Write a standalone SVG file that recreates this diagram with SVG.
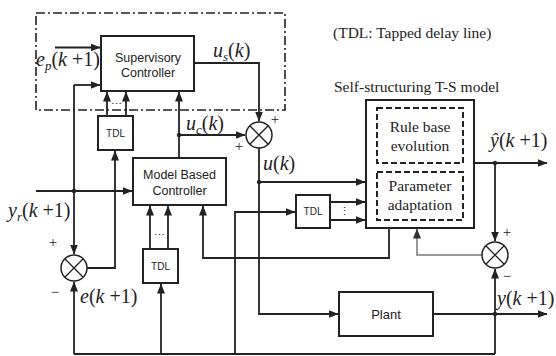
<svg xmlns="http://www.w3.org/2000/svg" width="556" height="356" viewBox="0 0 556 356">
<defs>
<marker id="ah" markerWidth="10" markerHeight="8" refX="9.5" refY="4" orient="auto" markerUnits="userSpaceOnUse"><path d="M0,0 L10,4 L0,8 z" fill="#222"/></marker>
<marker id="ahg" markerWidth="10" markerHeight="8" refX="9.5" refY="4" orient="auto" markerUnits="userSpaceOnUse"><path d="M0,0 L10,4 L0,8 z" fill="#333"/></marker>
<style>
.ln{fill:none;stroke:#222;stroke-width:1.8}
.ar{marker-end:url(#ah)}
.gr{fill:none;stroke:#777;stroke-width:1.5;marker-end:url(#ahg)}
.bx{fill:#fff;stroke:#222;stroke-width:2}
.db{fill:none;stroke:#222;stroke-width:2;stroke-dasharray:6,3}
.dd{fill:none;stroke:#222;stroke-width:1.6;stroke-dasharray:9,3,2,3}
.sm{fill:#fff;stroke:#222;stroke-width:1.5}
.x{stroke:#222;stroke-width:1.3}
.s{font-family:"Liberation Sans",Arial,sans-serif;fill:#222;text-anchor:middle}
.r{font-family:"Liberation Serif","Times New Roman",serif;fill:#222}
.c{text-anchor:middle}
.i{font-style:italic}
.dot{fill:#222}
</style>
</defs>
<rect class="dd" x="36" y="13" width="249" height="97"/>
<text class="r" x="333" y="38" font-size="15.5">(TDL: Tapped delay line)</text>
<text class="r" x="334" y="92" font-size="15.5">Self-structuring T-S model</text>

<g id="connectors">
<path class="ln ar" d="M55,47.5 H100"/>
<path class="ln ar" d="M74,85 H100"/>
<path class="ln ar" d="M74,85 V254"/>
<path class="ln ar" d="M36,191 H132"/>
<path class="ln ar" d="M74,354 V282"/>
<path class="ln" d="M74,354 H495"/>
<path class="ln ar" d="M495,354 V269"/>
<path class="ln ar" d="M161,354 V284"/>
<path class="ln ar" d="M235,354 V212 H295"/>
<path class="ln ar" d="M87,268 H115 V151"/>
<path class="ln ar" d="M107,116 V92"/>
<path class="ln ar" d="M126,116 V92"/>
<path class="ln ar" d="M150,249 V206"/>
<path class="ln ar" d="M168,249 V206"/>
<path class="ln ar" d="M179,158 V92"/>
<path class="ln ar" d="M179,135 H245"/>
<path class="ln ar" d="M194,63 H259 V121"/>
<path class="ln ar" d="M259,148 V314 H338"/>
<path class="ln ar" d="M259,182 H365"/>
<path class="ln ar" d="M330,202 H365"/>
<path class="ln ar" d="M330,220 H365"/>
<path class="ln ar" d="M389,228 V258 H203 V206"/>
<path class="gr" d="M482,255 H417 V229"/>
<path class="ln ar" d="M474,163 H547"/>
<path class="ln ar" d="M495,163 V241"/>
<path class="ln ar" d="M433,314 H547"/>
<circle class="dot" cx="74" cy="191" r="2.2"/>
<circle class="dot" cx="179" cy="135" r="2.2"/>
<circle class="dot" cx="259" cy="182" r="2.2"/>
<circle class="dot" cx="495" cy="163" r="2.2"/>
<circle class="dot" cx="495" cy="314" r="2.2"/>
<text class="r c" x="116.5" y="108" font-size="11">⋯</text>
<text class="r c" x="159" y="239" font-size="11">⋯</text>
<text class="r c" x="344" y="215" font-size="11">⋮</text>
</g>

<g id="supervisory">
<rect class="bx" x="101" y="36" width="93" height="55"/>
<text class="s" x="148" y="61.5" font-size="12.5">Supervisory</text>
<text class="s" x="148" y="77" font-size="12.5">Controller</text>
</g>
<g id="model-based">
<rect class="bx" x="133" y="158" width="93" height="47"/>
<text class="s" x="179.5" y="178.5" font-size="12.5">Model Based</text>
<text class="s" x="179.5" y="194.5" font-size="12.5">Controller</text>
</g>
<g id="tdl1">
<rect class="bx" x="98" y="116" width="35" height="34"/>
<text class="s" x="115.5" y="136.5" font-size="10">TDL</text>
</g>
<g id="tdl2">
<rect class="bx" x="143" y="249" width="35" height="34"/>
<text class="s" x="160.5" y="269.5" font-size="10">TDL</text>
</g>
<g id="tdl3">
<rect class="bx" x="296" y="195" width="34" height="33"/>
<text class="s" x="313" y="215" font-size="10">TDL</text>
</g>
<g id="plant">
<rect class="bx" x="339" y="292" width="94" height="44"/>
<text class="s" x="386" y="318.5" font-size="13">Plant</text>
</g>
<g id="ts-model">
<rect class="bx" x="366" y="100" width="108" height="128"/>
<rect class="db" x="377" y="108" width="86" height="55"/>
<rect class="db" x="377" y="172" width="86" height="48"/>
<text class="r c" x="420" y="132" font-size="15.5">Rule base</text>
<text class="r c" x="420" y="151" font-size="15.5">evolution</text>
<text class="r c" x="420" y="191" font-size="15.5">Parameter</text>
<text class="r c" x="420" y="210" font-size="15.5">adaptation</text>
</g>
<g id="sum1">
<circle class="sm" cx="259" cy="135" r="13"/>
<path class="x" d="M249.8,125.8 L268.2,144.2 M268.2,125.8 L249.8,144.2"/>
</g>
<g id="sum2">
<circle class="sm" cx="74" cy="268" r="13"/>
<path class="x" d="M64.8,258.8 L83.2,277.2 M83.2,258.8 L64.8,277.2"/>
</g>
<g id="sum3">
<circle class="sm" cx="495" cy="255" r="13"/>
<path class="x" d="M485.8,245.8 L504.2,264.2 M504.2,245.8 L485.8,264.2"/>
</g>

<g id="labels" class="r" font-size="20">
<text x="36" y="66"><tspan class="i">e</tspan><tspan class="i" font-size="13" dy="4">p</tspan><tspan dy="-4">(</tspan><tspan class="i">k</tspan> +1)</text>
<text x="213" y="57"><tspan class="i">u</tspan><tspan class="i" font-size="13" dy="4">s</tspan><tspan dy="-4">(</tspan><tspan class="i">k</tspan>)</text>
<text x="186" y="130"><tspan class="i">u</tspan><tspan class="i" font-size="13" dy="4">c</tspan><tspan dy="-4">(</tspan><tspan class="i">k</tspan>)</text>
<text x="263" y="170"><tspan class="i">u</tspan>(<tspan class="i">k</tspan>)</text>
<text x="490" y="147"><tspan class="i">ŷ</tspan>(<tspan class="i">k</tspan> +1)</text>
<text x="497" y="305"><tspan class="i">y</tspan>(<tspan class="i">k</tspan> +1)</text>
<text x="8" y="217"><tspan class="i">y</tspan><tspan class="i" font-size="13" dy="4">r</tspan><tspan dy="-4">(</tspan><tspan class="i">k</tspan> +1)</text>
<text x="80" y="303"><tspan class="i">e</tspan>(<tspan class="i">k</tspan> +1)</text>
<text class="c" x="275" y="124" font-size="15">+</text>
<text class="c" x="239" y="151" font-size="15">+</text>
<text class="c" x="53" y="247" font-size="15">+</text>
<text class="c" x="55" y="297" font-size="15">−</text>
<text class="c" x="507" y="237" font-size="15">+</text>
<text class="c" x="507" y="281" font-size="15">−</text>
</g>
</svg>
